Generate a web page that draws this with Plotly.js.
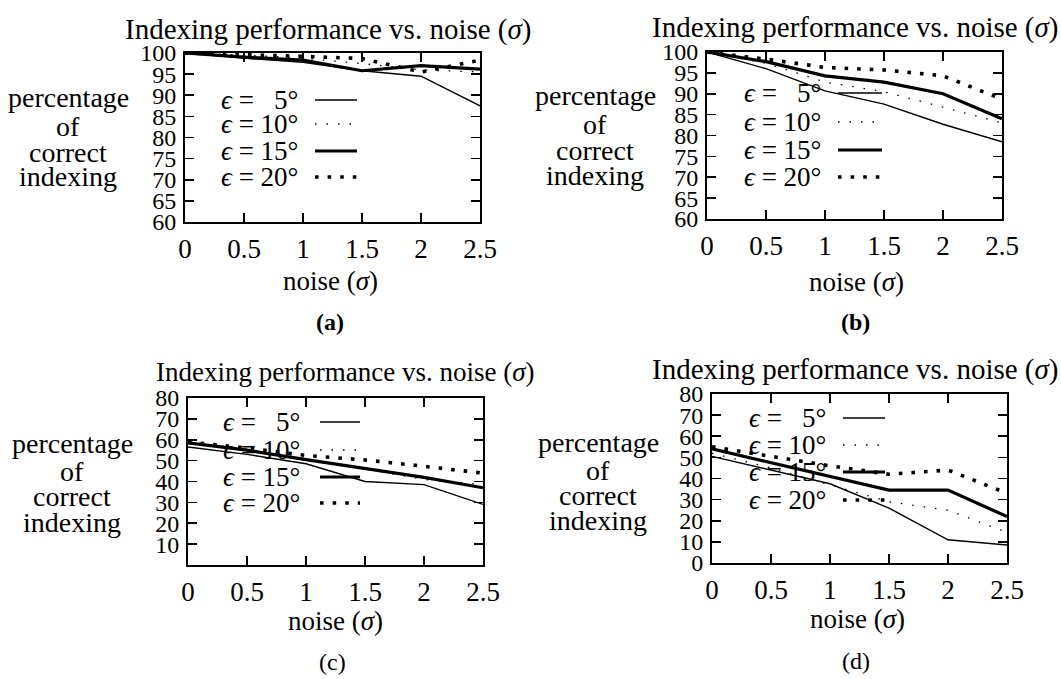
<!DOCTYPE html>
<html>
<head>
<meta charset="utf-8">
<script src="https://cdn.plot.ly/plotly-3.0.1.min.js"></script>
<style>html,body{margin:0;padding:0;background:#fff;}#chart{width:1061px;height:679px;}</style>
</head>
<body>
<div id="chart"></div>
<script>
// ---- data ----
const noise = [0, 0.5, 1, 1.5, 2, 2.5];
const seriesNames = ['ϵ = 5°', 'ϵ = 10°', 'ϵ = 15°', 'ϵ = 20°'];
const legendLabels = ['<i>ϵ</i> = \u20075°', '<i>ϵ</i> = 10°', '<i>ϵ</i> = 15°', '<i>ϵ</i> = 20°'];
const a5  = [100, 98.8, 97.8, 95.8, 94.5, 87.5];
const a10 = [100, 99.5, 98.8, 97.5, 96.0, 95.5];
const a15 = [100, 99.0, 98.3, 95.8, 97.0, 96.2];
const a20 = [100, 99.7, 99.2, 98.7, 95.5, 98.3];
const b5  = [100, 96.0, 90.7, 87.5, 82.7, 78.5];
const b10 = [100, 97.3, 92.8, 90.5, 86.8, 83.0];
const b15 = [100, 97.7, 94.3, 92.8, 90.0, 84.0];
const b20 = [100, 98.3, 96.3, 95.7, 94.3, 88.7];
const c5  = [56.5, 53.0, 48.5, 40.0, 38.5, 29.0];
const c10 = [59.0, 55.5, 51.0, 46.0, 41.0, 38.5];
const c15 = [58.5, 55.0, 50.5, 46.3, 42.0, 37.0];
const c20 = [59.0, 56.0, 52.5, 50.3, 47.3, 44.0];
const d5  = [50.5, 44.0, 37.5, 26.0, 11.0, 8.5];
const d10 = [52.0, 45.0, 37.0, 29.0, 25.0, 14.5];
const d15 = [54.0, 47.5, 41.0, 34.5, 34.5, 22.0];
const d20 = [55.0, 50.5, 46.0, 42.0, 44.0, 33.0];
const xTicks = [0, 0.5, 1, 1.5, 2, 2.5];
const xTickText = ['0', '0.5', '1', '1.5', '2', '2.5'];
const yTicksHigh = [60, 65, 70, 75, 80, 85, 90, 95, 100];
const yTicksLowC = [10, 20, 30, 40, 50, 60, 70, 80];
const yTicksLowD = [0, 10, 20, 30, 40, 50, 60, 70, 80];
const titleText = 'Indexing performance vs. noise (<i>σ</i>)';
const xTitleText = 'noise (<i>σ</i>)';
const yTitleLines = ['percentage', 'of', 'correct', 'indexing'];
const panelLabels = ['<b>(a)</b>', '<b>(b)</b>', '(c)', '(d)'];

// ---- layout helpers ----
const W = 1061, H = 679;
const PX = v => v / W, PY = v => 1 - v / H;
const FONT = '"Liberation Serif", "Times New Roman", serif';
const styles = [
  {width: 1.4, dash: 'solid'},
  {width: 1.3, dash: '1.5px,10px'},
  {width: 3.2, dash: 'solid'},
  {width: 3.6, dash: '3.6px,9px'}
];

const panels = [
  {data: [a5, a10, a15, a20], box: [185, 480, 53, 222], yr: [60, 100], yt: yTicksHigh,
   title: [328, 30], ytitle: [68, [98, 126, 152, 177]], xtitle: [330, 281], lab: [330, 322],
   leg: {tx: 300, rows: [100, 124, 151, 177], s0: 315, s1: 357}},
  {data: [b5, b10, b15, b20], box: [707, 1002, 52, 219], yr: [60, 100], yt: yTicksHigh,
   title: [855, 28], ytitle: [595, [96, 124, 150, 176]], xtitle: [856, 282], lab: [855, 322],
   leg: {tx: 823, rows: [93, 122, 150, 177], s0: 838, s1: 882}},
  {data: [c5, c10, c15, c20], box: [188, 483, 398, 565], yr: [0, 80], yt: yTicksLowC,
   title: [345, 372], ytitle: [72, [443, 471, 497, 522]], xtitle: [335, 621], lab: [332, 662],
   leg: {tx: 302, rows: [422, 450, 477, 503], s0: 320, s1: 360}},
  {data: [d5, d10, d15, d20], box: [712, 1007, 394, 563], yr: [0, 80], yt: yTicksLowD,
   title: [855, 370], ytitle: [598, [442, 470, 495, 520]], xtitle: [857, 619], lab: [856, 661],
   leg: {tx: 828, rows: [418, 445, 472, 500], s0: 843, s1: 885}}
];

const traces = [];
const layout = {
  width: W, height: H, margin: {l: 0, r: 0, t: 0, b: 0},
  paper_bgcolor: '#fff', plot_bgcolor: '#fff', showlegend: false,
  font: {family: FONT, color: '#000', size: 24},
  annotations: [], shapes: []
};

panels.forEach((p, i) => {
  const n = i === 0 ? '' : String(i + 1);
  const xa = 'xaxis' + n, ya = 'yaxis' + n;
  const common = {
    showline: true, linewidth: 2, linecolor: '#000', mirror: 'allticks',
    ticks: 'inside', ticklen: 9, tickwidth: 1.6, tickcolor: '#000',
    showgrid: false, zeroline: false, fixedrange: true
  };
  layout[xa] = Object.assign({}, common, {
    domain: [PX(p.box[0]), PX(p.box[1])], range: [0, 2.5],
    tickvals: xTicks, ticktext: xTickText, anchor: 'y' + n, ticklabelstandoff: 2,
    tickfont: {family: FONT, size: 27, color: '#000'}
  });
  layout[ya] = Object.assign({}, common, {
    domain: [PY(p.box[3]), PY(p.box[2])], range: p.yr,
    tickvals: p.yt, ticktext: p.yt.map(String), anchor: 'x' + n, ticklabelstandoff: 2,
    tickfont: {family: FONT, size: 24, color: '#000'}
  });
  p.data.forEach((ys, k) => {
    traces.push({
      x: noise, y: ys, xaxis: 'x' + n, yaxis: 'y' + n, type: 'scatter', mode: 'lines',
      name: seriesNames[k], line: {color: '#000', width: styles[k].width, dash: styles[k].dash},
      hoverinfo: 'skip'
    });
    // legend entry (text + sample line to its right)
    layout.annotations.push({
      xref: 'paper', yref: 'paper', x: PX(p.leg.tx), y: PY(p.leg.rows[k]),
      xanchor: 'right', yanchor: 'middle', text: legendLabels[k], showarrow: false,
      font: {family: FONT, size: 27}
    });
    layout.shapes.push({
      type: 'line', xref: 'paper', yref: 'paper',
      x0: PX(p.leg.s0), x1: PX(p.leg.s1), y0: PY(p.leg.rows[k]), y1: PY(p.leg.rows[k]),
      line: {color: '#000', width: styles[k].width, dash: styles[k].dash}
    });
  });
  layout.annotations.push({
    xref: 'paper', yref: 'paper', x: PX(p.title[0]), y: PY(p.title[1]),
    xanchor: 'center', yanchor: 'middle', text: titleText, showarrow: false,
    font: {family: FONT, size: i === 2 ? 27 : 29}
  });
  yTitleLines.forEach((t, k) => layout.annotations.push({
    xref: 'paper', yref: 'paper', x: PX(p.ytitle[0]), y: PY(p.ytitle[1][k]),
    xanchor: 'center', yanchor: 'middle', text: t, showarrow: false,
    font: {family: FONT, size: 28}
  }));
  layout.annotations.push({
    xref: 'paper', yref: 'paper', x: PX(p.xtitle[0]), y: PY(p.xtitle[1]),
    xanchor: 'center', yanchor: 'middle', text: xTitleText, showarrow: false,
    font: {family: FONT, size: 27}
  });
  layout.annotations.push({
    xref: 'paper', yref: 'paper', x: PX(p.lab[0]), y: PY(p.lab[1]),
    xanchor: 'center', yanchor: 'middle', text: panelLabels[i], showarrow: false,
    font: {family: FONT, size: 24}
  });
});

Plotly.newPlot('chart', traces, layout, {staticPlot: true, displayModeBar: false});
</script>
</body>
</html>
